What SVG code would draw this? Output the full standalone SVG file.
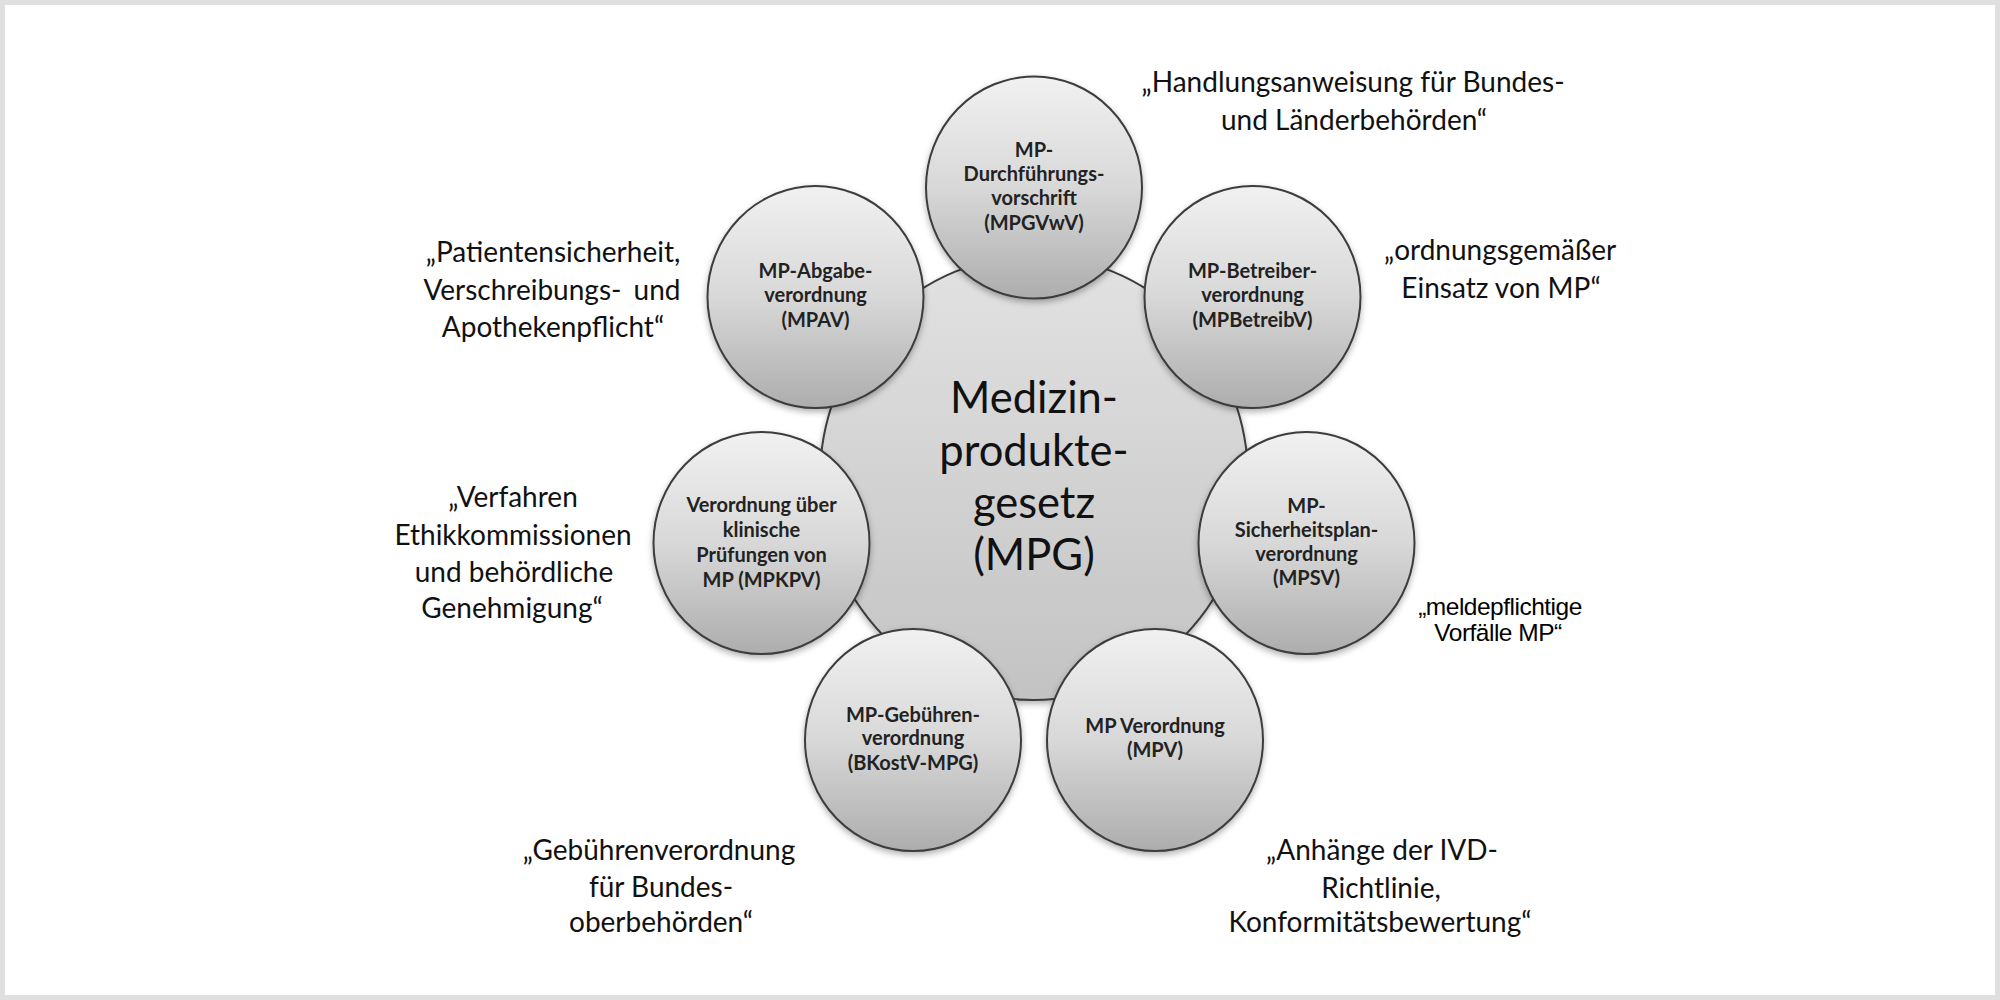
<svg xmlns="http://www.w3.org/2000/svg" width="2000" height="1000" viewBox="0 0 2000 1000">
<defs>
<linearGradient id="gOuter" x1="0" y1="0" x2="0" y2="1">
<stop offset="0" stop-color="#f1f1f1"/>
<stop offset="0.5" stop-color="#d8d8d8"/>
<stop offset="1" stop-color="#adadad"/>
</linearGradient>
<linearGradient id="gCenter" x1="0" y1="0" x2="0" y2="1">
<stop offset="0" stop-color="#e2e2e2"/>
<stop offset="1" stop-color="#c3c3c3"/>
</linearGradient>
<filter id="shadow" x="-20%" y="-20%" width="140%" height="145%">
<feDropShadow dx="0" dy="3" stdDeviation="3" flood-color="#000" flood-opacity="0.3"/>
</filter>
</defs>
<style>
.outer{fill:url(#gOuter);stroke:#3c3c3c;stroke-width:2;filter:url(#shadow)}
.center{fill:url(#gCenter);stroke:#3c3c3c;stroke-width:2;filter:url(#shadow)}
.lbl{font-family:Lato,"Open Sans","Liberation Sans",sans-serif;font-size:20px;font-weight:bold;fill:#222;text-anchor:middle}
.big{font-family:Lato,"Open Sans","Liberation Sans",sans-serif;font-size:43.5px;fill:#111;text-anchor:middle}
.note{font-family:Lato,"Open Sans","Liberation Sans",sans-serif;font-size:28px;fill:#111;text-anchor:middle}
.arial{font-family:"Liberation Sans",Arial,sans-serif;font-size:24.5px;fill:#000;text-anchor:middle;letter-spacing:-0.5px}
</style>
<rect x="0" y="0" width="2000" height="1000" fill="#dfdfdf"/>
<rect x="5" y="5" width="1990" height="990" fill="#ffffff"/>

<g id="mpg">
<ellipse class="center" cx="1034" cy="478" rx="214" ry="222"/>
<text class="big" x="1034" y="413">Medizin-</text>
<text class="big" x="1034" y="466">produkte-</text>
<text class="big" x="1034" y="518">gesetz</text>
<text class="big" x="1034" y="570">(MPG)</text>
</g>

<g id="mpgvwv">
<ellipse class="outer" cx="1034" cy="187.5" rx="108" ry="111"/>
<text class="lbl" x="1034" y="157">MP-</text>
<text class="lbl" x="1034" y="181">Durchführungs-</text>
<text class="lbl" x="1034" y="205">vorschrift</text>
<text class="lbl" x="1034" y="230">(MPGVwV)</text>
</g>

<g id="mpbetreibv">
<ellipse class="outer" cx="1252.5" cy="297" rx="108" ry="111"/>
<text class="lbl" x="1252.5" y="278">MP-Betreiber-</text>
<text class="lbl" x="1252.5" y="302">verordnung</text>
<text class="lbl" x="1252.5" y="327">(MPBetreibV)</text>
</g>

<g id="mpsv">
<ellipse class="outer" cx="1306.5" cy="543" rx="108" ry="111"/>
<text class="lbl" x="1306.5" y="513">MP-</text>
<text class="lbl" x="1306.5" y="537">Sicherheitsplan-</text>
<text class="lbl" x="1306.5" y="561">verordnung</text>
<text class="lbl" x="1306.5" y="585">(MPSV)</text>
</g>

<g id="mpv">
<ellipse class="outer" cx="1155" cy="740" rx="108" ry="111"/>
<text class="lbl" x="1155" y="733">MP Verordnung</text>
<text class="lbl" x="1155" y="757">(MPV)</text>
</g>

<g id="bkostv">
<ellipse class="outer" cx="913" cy="740" rx="108" ry="111"/>
<text class="lbl" x="913" y="722">MP-Gebühren-</text>
<text class="lbl" x="913" y="745">verordnung</text>
<text class="lbl" x="913" y="770">(BKostV-MPG)</text>
</g>

<g id="mpkpv">
<ellipse class="outer" cx="761.5" cy="543" rx="108" ry="111"/>
<text class="lbl" x="761.5" y="512">Verordnung über</text>
<text class="lbl" x="761.5" y="537">klinische</text>
<text class="lbl" x="761.5" y="562">Prüfungen von</text>
<text class="lbl" x="761.5" y="587">MP (MPKPV)</text>
</g>

<g id="mpav">
<ellipse class="outer" cx="815.5" cy="297" rx="108" ry="111"/>
<text class="lbl" x="815.5" y="278">MP-Abgabe-</text>
<text class="lbl" x="815.5" y="302">verordnung</text>
<text class="lbl" x="815.5" y="327">(MPAV)</text>
</g>

<g id="notes">
<text class="note" x="1353" y="92">„Handlungsanweisung  für Bundes-</text>
<text class="note" x="1354" y="130">und Länderbehörden“</text>
<text class="note" x="1500" y="260">„ordnungsgemäßer</text>
<text class="note" x="1501" y="298">Einsatz von MP“</text>
<text class="note" x="553" y="262">„Patientensicherheit,</text>
<text class="note" x="552" y="300" word-spacing="5">Verschreibungs- und</text>
<text class="note" x="553" y="337">Apothekenpflicht“</text>
<text class="note" x="513" y="507">„Verfahren</text>
<text class="note" x="513" y="545">Ethikkommissionen</text>
<text class="note" x="514" y="582">und behördliche</text>
<text class="note" x="512" y="618">Genehmigung“</text>
<text class="note" x="659" y="860">„Gebührenverordnung</text>
<text class="note" x="661" y="897">für Bundes-</text>
<text class="note" x="661" y="932">oberbehörden“</text>
<text class="note" x="1382" y="860">„Anhänge der IVD-</text>
<text class="note" x="1381" y="898">Richtlinie,</text>
<text class="note" x="1380" y="932">Konformitätsbewertung“</text>
<text class="arial" x="1500" y="615">„meldepflichtige</text>
<text class="arial" x="1498" y="641">Vorfälle MP“</text>
</g>
</svg>
